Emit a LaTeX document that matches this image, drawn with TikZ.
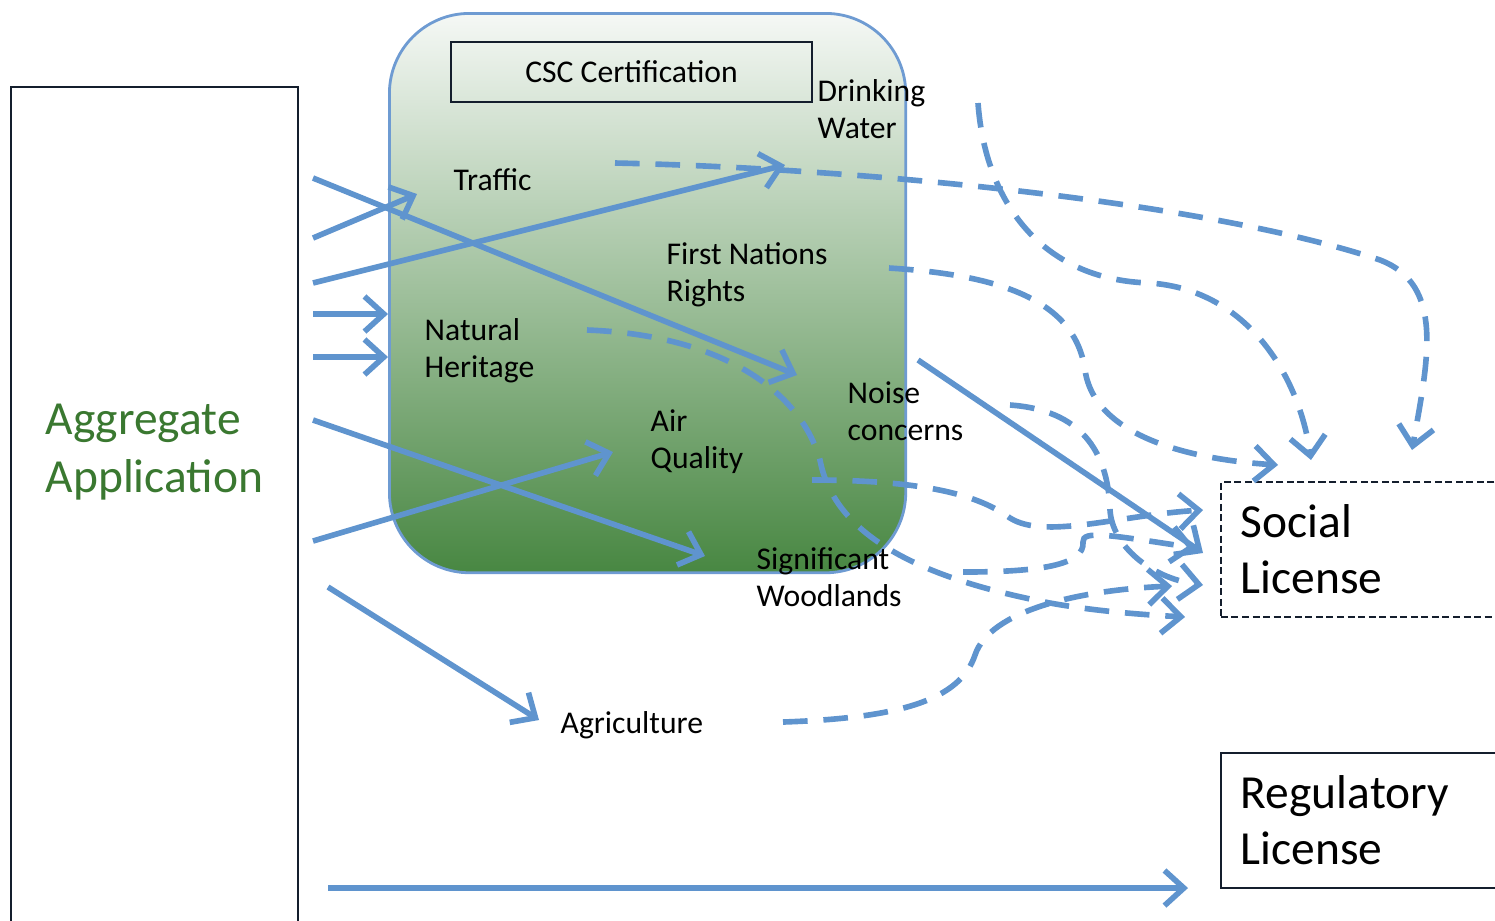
\documentclass[tikz,border=0pt]{standalone}
\usepackage{fontspec}
\setmainfont{Carlito}
\usetikzlibrary{arrows.meta}
\definecolor{arrowblue}{RGB}{95,148,206}
\definecolor{boxblue}{RGB}{110,155,210}
\definecolor{aggreen}{RGB}{58,120,48}
\definecolor{frame}{RGB}{20,30,45}
\tikzset{
  flow/.style={arrowblue,line width=1.6pt,-{Straight Barb[length=5.5pt,width=10pt]}},
  link/.style={flow,dash pattern=on 7pt off 4.5pt},
  lbl/.style={anchor=west,align=left,inner sep=0pt,font=\fontsize{9}{10.5}\selectfont},
  licence/.style={draw=frame,line width=0.5pt,anchor=north west,align=left,
    text width=2.4cm,inner xsep=0.2cm,minimum height=1.35cm,
    font=\fontsize{13.5}{15.9}\selectfont},
}

\begin{document}
\begin{tikzpicture}[x=0.01cm,y=-0.01cm]
    \useasboundingbox (0,0) rectangle (1495,920);
    % application
    \draw [frame,line width=0.7pt] (11,87) rectangle (298,935);
    \node [lbl,aggreen,font=\fontsize{13.5}{16.5}\selectfont] (agg) at (45,452) {Aggregate\\Application};
    % site with its concerns
    \node [draw=boxblue,line width=0.8pt,rounded corners=0.8cm,anchor=north west,
      top color={rgb,255:red,245;green,248;blue,245},middle color={rgb,255:red,165;green,195;blue,160},
      bottom color={rgb,255:red,72;green,135;blue,66},minimum width=5.16cm,minimum height=5.59cm] (site) at (388,12) {};
    \node [draw=frame,line width=0.6pt,minimum width=3.61cm,minimum height=0.6cm,inner sep=0pt,
      font=\fontsize{9}{10.5}\selectfont] (csc) at (631.5,72) {CSC Certification};
    \node [lbl] (drink) at (817,109) {Drinking\\Water};
    \node [lbl] (traffic) at (453,180) {Traffic};
    \node [lbl] (nations) at (666,275) {First Nations\\Rights};
    \node [lbl] (heritage) at (424,351) {Natural\\Heritage};
    \node [lbl] (noise) at (847,411) {Noise\\concerns};
    \node [lbl] (air) at (650,442) {Air\\Quality};
    \node [lbl] (wood) at (756,577) {Significant\\Woodlands};
    \node [lbl] (agri) at (560,725) {Agriculture};
    % licences
    \node [licence,dash pattern=on 2pt off 1pt] (social) at (1220,481) {Social\\License};
    \node [licence] (regulatory) at (1220,752) {Regulatory\\License};
    % ends of the arrows
    \coordinate (s1) at (313,178); \coordinate (e1) at (797,375);
    \coordinate (s2) at (313,238); \coordinate (e2) at (417,194);
    \coordinate (s3) at (313,283); \coordinate (e3) at (785,165);
    \coordinate (s4) at (313,314); \coordinate (e4) at (388,314);
    \coordinate (s5) at (313,357); \coordinate (e5) at (388,357);
    \coordinate (s6) at (313,420); \coordinate (e6) at (705,556);
    \coordinate (s7) at (313,541); \coordinate (e7) at (613,452);
    \coordinate (s8) at (328,587); \coordinate (e8) at (539,720);
    \coordinate (s9) at (328,888); \coordinate (e9) at (1188,888);
    \coordinate (s10) at (918,360); \coordinate (e10) at (1203,553);
    \draw [flow] (s1) -- (e1);
    \draw [flow] (s2) -- (e2);
    \draw [flow] (s3) -- (e3);
    \draw [flow] (s4) -- (e4);
    \draw [flow] (s5) -- (e5);
    \draw [flow] (s6) -- (e6);
    \draw [flow] (s7) -- (e7);
    \draw [flow] (s8) -- (e8);
    \draw [flow] (s9) -- (e9);
    \draw [flow] (s10) -- (e10);
    % dashed links to the social license
    \coordinate (d1) at (615,163); \coordinate (f1) at (1412,450);
    \coordinate (d2) at (978,103); \coordinate (f2) at (1311,460);
    \coordinate (d3) at (889,268); \coordinate (f3) at (1278,465);
    \coordinate (d4) at (1010,405); \coordinate (f4) at (1203,585);
    \coordinate (d5) at (587,330); \coordinate (f5) at (1185,617);
    \coordinate (d6) at (812,480); \coordinate (f6) at (1203,510);
    \coordinate (d7) at (963,572); \coordinate (f7) at (1195,548);
    \coordinate (d8) at (783,722); \coordinate (f8) at (1172,586);
    \draw [link] (d1) .. controls (850,168) and (1200,200) .. (1380,260) .. controls (1445,285) and (1428,360) .. (f1);
    \draw [link] (d2) .. controls (985,200) and (1040,280) .. (1150,283) .. controls (1250,290) and (1300,380) .. (f2);
    \draw [link] (d3) .. controls (1000,275) and (1075,300) .. (1085,370) .. controls (1095,440) and (1200,460) .. (f3);
    \draw [link] (d4) .. controls (1080,410) and (1108,450) .. (1110,510) .. controls (1112,545) and (1150,578) .. (f4);
    \draw [link] (d5) .. controls (720,335) and (800,390) .. (820,460) .. controls (835,540) and (930,580) .. (1050,603) .. controls (1100,612) and (1150,615) .. (f5);
    \draw [link] (d6) .. controls (940,480) and (985,500) .. (1010,518) .. controls (1045,540) and (1120,515) .. (f6);
    \draw [link] (d7) .. controls (1040,572) and (1085,565) .. (1083,542) .. controls (1082,530) and (1110,535) .. (f7);
    \draw [link] (d8) .. controls (900,718) and (960,700) .. (975,655) .. controls (990,610) and (1080,590) .. (f8);
\end{tikzpicture}
\end{document}
